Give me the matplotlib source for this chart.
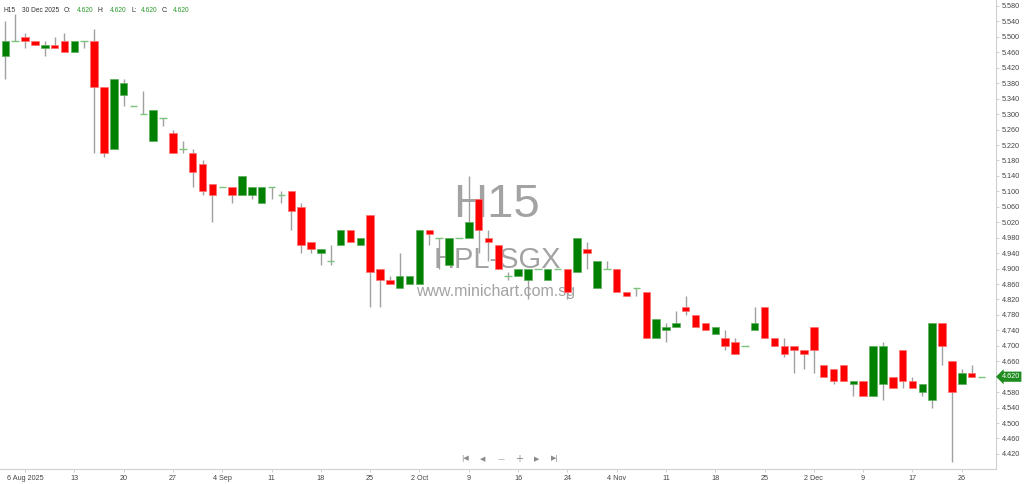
import matplotlib
matplotlib.use("Agg")
import matplotlib.pyplot as plt
import numpy as np

# ---- data ----
opens = [5.45, 5.49, 5.50, 5.49, 5.47, 5.48, 5.49, 5.46, 5.49, 5.49,
         5.37, 5.21, 5.35, 5.32, 5.30, 5.23, 5.29, 5.25, 5.21, 5.20,
         5.17, 5.12, 5.11, 5.11, 5.09, 5.09, 5.07, 5.11, 5.09, 5.10,
         5.06, 4.97, 4.94, 4.92, 4.96, 5.00, 4.96, 5.04, 4.90, 4.87,
         4.85, 4.86, 4.86, 5.00, 4.98, 4.91, 4.98, 4.98, 5.08, 4.98,
         4.96, 4.88, 4.88, 4.87, 4.90, 4.87, 4.90, 4.90, 4.89, 4.95,
         4.85, 4.90, 4.90, 4.84, 4.85, 4.84, 4.72, 4.74, 4.75, 4.80,
         4.78, 4.76, 4.73, 4.72, 4.71, 4.70, 4.74, 4.80, 4.72, 4.70,
         4.70, 4.69, 4.75, 4.65, 4.64, 4.65, 4.60, 4.61, 4.57, 4.60,
         4.62, 4.69, 4.61, 4.58, 4.56, 4.76, 4.66, 4.60, 4.63, 4.62]
highs = [5.54, 5.56, 5.51, 5.49, 5.49, 5.50, 5.51, 5.49, 5.49, 5.52,
         5.37, 5.39, 5.39, 5.32, 5.36, 5.31, 5.29, 5.26, 5.23, 5.21,
         5.18, 5.12, 5.11, 5.11, 5.14, 5.11, 5.11, 5.11, 5.10, 5.10,
         5.07, 4.97, 4.95, 4.96, 5.00, 5.00, 4.98, 5.04, 4.90, 4.88,
         4.94, 4.88, 5.00, 5.00, 4.98, 4.98, 4.98, 5.14, 5.08, 5.00,
         4.96, 4.89, 4.90, 4.90, 4.90, 4.90, 4.90, 4.90, 4.98, 4.97,
         4.92, 4.92, 4.90, 4.84, 4.85, 4.84, 4.77, 4.76, 4.79, 4.83,
         4.78, 4.76, 4.75, 4.74, 4.72, 4.70, 4.80, 4.80, 4.72, 4.72,
         4.70, 4.69, 4.75, 4.65, 4.64, 4.65, 4.61, 4.61, 4.70, 4.71,
         4.62, 4.69, 4.62, 4.60, 4.76, 4.76, 4.66, 4.64, 4.65, 4.62]
lows = [5.39, 5.49, 5.47, 5.48, 5.45, 5.47, 5.46, 5.46, 5.47, 5.20,
        5.19, 5.21, 5.32, 5.32, 5.30, 5.23, 5.27, 5.20, 5.20, 5.11,
        5.09, 5.02, 5.11, 5.07, 5.09, 5.08, 5.07, 5.08, 5.07, 5.00,
        4.94, 4.94, 4.91, 4.91, 4.96, 4.97, 4.96, 4.80, 4.80, 4.86,
        4.85, 4.86, 4.86, 4.96, 4.90, 4.91, 4.98, 4.98, 4.94, 4.92,
        4.90, 4.87, 4.88, 4.82, 4.90, 4.87, 4.90, 4.82, 4.89, 4.90,
        4.85, 4.90, 4.84, 4.83, 4.83, 4.72, 4.72, 4.71, 4.75, 4.78,
        4.75, 4.74, 4.73, 4.69, 4.68, 4.70, 4.74, 4.72, 4.70, 4.67,
        4.63, 4.64, 4.63, 4.62, 4.60, 4.61, 4.57, 4.57, 4.57, 4.56,
        4.59, 4.59, 4.59, 4.57, 4.54, 4.65, 4.40, 4.60, 4.62, 4.62]
closes = [5.49, 5.49, 5.49, 5.48, 5.48, 5.47, 5.46, 5.49, 5.49, 5.37,
          5.20, 5.39, 5.38, 5.32, 5.30, 5.31, 5.29, 5.20, 5.21, 5.15,
          5.10, 5.09, 5.11, 5.09, 5.14, 5.11, 5.11, 5.11, 5.09, 5.05,
          4.96, 4.95, 4.95, 4.92, 5.00, 4.97, 4.98, 4.89, 4.87, 4.86,
          4.88, 4.88, 5.00, 4.99, 4.98, 4.98, 4.98, 5.02, 5.00, 4.97,
          4.90, 4.88, 4.90, 4.90, 4.90, 4.90, 4.90, 4.84, 4.98, 4.94,
          4.92, 4.90, 4.84, 4.83, 4.85, 4.72, 4.77, 4.75, 4.76, 4.79,
          4.75, 4.74, 4.75, 4.70, 4.68, 4.70, 4.76, 4.72, 4.70, 4.68,
          4.69, 4.68, 4.69, 4.62, 4.61, 4.61, 4.61, 4.57, 4.70, 4.70,
          4.59, 4.61, 4.59, 4.60, 4.76, 4.70, 4.58, 4.63, 4.62, 4.62]
date_labels = ["6 Aug 2025", "13", "20", "27", "4 Sep", "11", "18", "25",
               "2 Oct", "9", "16", "24", "4 Nov", "11", "18", "25",
               "2 Dec", "9", "17", "26"]
first_label_bar = 2
label_step = 5
price_ticks = [round(4.42 + 0.04 * k, 2) for k in range(30)]
symbol = "H15"
name = "HPL-SGX"
last_date = "30 Dec 2025"

# ---- figure ----
W, H = 1024, 484
fig = plt.figure(figsize=(W / 100, H / 100), dpi=100)
ax = fig.add_axes([0, 15 / H, 996 / W, 469 / H])

FONT = "Liberation Sans"
GREEN = "#008000"
RED = "#ff0000"
DOJI = "#7cc47c"
WICK = "#a0a0a0"
FS = 5.2
HFS = 4.8

n = len(opens)
x = np.arange(n)
o = np.array(opens); h = np.array(highs); l = np.array(lows); c = np.array(closes)

ax.vlines(x, l, h, color=WICK, lw=1.0, zorder=2)
up = c > o
dn = c < o
dj = c == o
bw = 0.76
ax.bar(x[up], (c - o)[up], bottom=o[up], width=bw, color=GREEN,
       edgecolor="#5fae5f", linewidth=0.5, zorder=3)
ax.bar(x[dn], (o - c)[dn], bottom=c[dn], width=bw, color=RED,
       edgecolor="#ff7070", linewidth=0.5, zorder=3)
ax.hlines(c[dj], x[dj] - bw / 2, x[dj] + bw / 2, color=DOJI, lw=1.0, zorder=3)

ax.set_xlim(-0.54, 100.47)
ax.set_ylim(4.381, 5.5955)

# watermark
wm = "#a3a3a3"
ax.text(0.498, 0.562, symbol, transform=ax.transAxes, ha="center", va="center",
        fontsize=34, color=wm, family=FONT, zorder=1)
ax.text(0.499, 0.446, name, transform=ax.transAxes, ha="center", va="center",
        fontsize=21, color=wm, family=FONT, zorder=1)
ax.text(0.498, 0.378, "www.minichart.com.sg", transform=ax.transAxes, ha="center",
        va="center", fontsize=11.5, color=wm, family=FONT, zorder=1)

# axes styling
for s in ["top", "left"]:
    ax.spines[s].set_visible(False)
ax.spines["right"].set_color("#d0d0d0")
ax.spines["bottom"].set_color("#d0d0d0")
ax.yaxis.tick_right()
ax.set_yticks(price_ticks)
ax.set_yticklabels([f"{v:.3f}" for v in price_ticks])
ax.tick_params(axis="y", labelsize=FS, length=2.5, width=0.6,
               pad=1.5, direction="out")
tick_pos = [first_label_bar + label_step * k for k in range(len(date_labels))]
ax.set_xticks(tick_pos)
ax.set_xticklabels(date_labels)
ax.tick_params(axis="x", labelsize=FS, length=2.5, width=0.6,
               pad=1.5, direction="out")
for t in ax.get_xticklabels() + ax.get_yticklabels():
    t.set_family(FONT)
    t.set_color("#444444")
ax.tick_params(axis="both", color="#c8c8c8")

# last price label
ax.annotate(f"{closes[-1]:.3f}", xy=(1.0, closes[-1]), xycoords=("axes fraction", "data"),
            xytext=(4, 0), textcoords="offset points", ha="left", va="center",
            fontsize=FS, color="white", family=FONT,
            bbox=dict(boxstyle="larrow,pad=0.22", fc="#1e8c1e", ec="none"),
            annotation_clip=False)

# header
def ftext(px, s, color="#333333"):
    fig.text(px / W, 1 - 10 / H, s, ha="left", va="center", fontsize=HFS,
             color=color, family=FONT)

hdr_g = "#2a9a2a"
ftext(3, symbol)
ftext(22, last_date)
vals = [opens[-1], highs[-1], lows[-1], closes[-1]]
for lab, px, v, pv in zip(["O:", "H:", "L:", "C:"], [64, 98, 131, 162],
                          vals, [77, 110, 141, 173]):
    ftext(px, lab)
    ftext(pv, f"{v:.3f}", hdr_g)

# navigation buttons
nav_y = 1 - 459 / H
ncol = "#8a8a8a"
fig.text(465 / W, nav_y, "|◀", ha="center", va="center", fontsize=5, color=ncol,
         family="DejaVu Sans")
fig.text(483 / W, nav_y, "◀", ha="center", va="center", fontsize=5, color=ncol,
         family="DejaVu Sans")
fig.text(501 / W, nav_y, "—", ha="center", va="center", fontsize=5, color=ncol,
         family="DejaVu Sans")
fig.text(519 / W, nav_y, "+", ha="center", va="center", fontsize=7, color=ncol,
         family="DejaVu Sans")
fig.text(537 / W, nav_y, "▶", ha="center", va="center", fontsize=5, color=ncol,
         family="DejaVu Sans")
fig.text(555 / W, nav_y, "▶|", ha="center", va="center", fontsize=5, color=ncol,
         family="DejaVu Sans")

fig.savefig("out.png", dpi=100)
